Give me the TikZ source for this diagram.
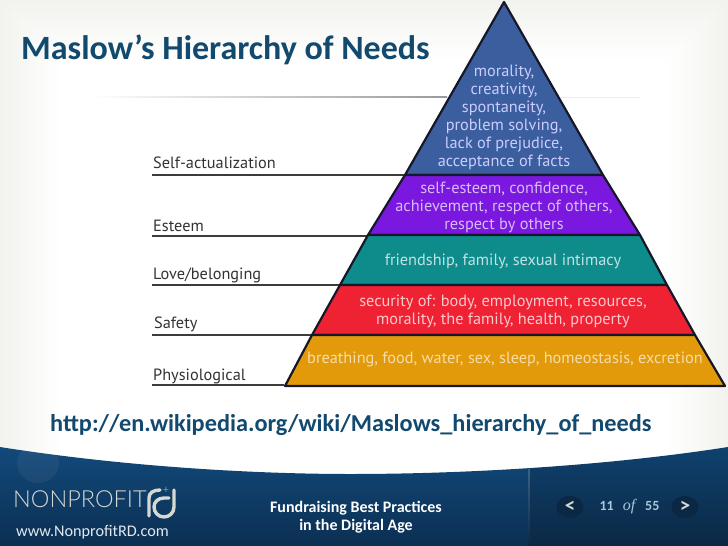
\documentclass[tikz,border=0pt]{standalone}
\usepackage{fontspec}
\setmainfont{Carlito}
\newfontfamily\din{PT Sans}
\newfontfamily\thinf{Lato Light}
\newfontfamily\serf{Liberation Serif}
\usetikzlibrary{calc,shapes.geometric}
\definecolor{titleblue}{HTML}{12496F}
\definecolor{footA}{HTML}{124A7C}
\definecolor{footB}{HTML}{0B2F52}
\definecolor{footC}{HTML}{0A2844}
\definecolor{paper}{HTML}{F2F3EE}
\definecolor{tierA}{HTML}{3A5E9E}
\definecolor{tierB}{HTML}{7A18E0}
\definecolor{tierC}{HTML}{0E8C8C}
\definecolor{tierD}{HTML}{EE2233}
\definecolor{tierE}{HTML}{E39A0A}
\definecolor{edge}{HTML}{16182A}
\definecolor{lineg}{HTML}{3C3C3C}
\definecolor{logog}{HTML}{D6D8D2}
\definecolor{pagec}{HTML}{A9C6DC}
\tikzset{
 x=1pt,y=-1pt,
 tiertext/.style={font=\din\fontsize{16.3}{18}\selectfont,align=center,inner sep=0pt},
 levellabel/.style={font=\din\fontsize{16.3}{18}\selectfont,text=black!80,anchor=base west,inner sep=0pt},
 levelline/.style={draw=lineg,line width=1.6pt},
 tier/.style={draw=edge,line width=2.2pt,line join=round},
 foot/.style={font=\bfseries\fontsize{16}{18.5}\selectfont,text=white,align=center,inner sep=0pt},
 navbtn/.style={ellipse,fill=footC,minimum width=27pt,minimum height=22pt,inner sep=0pt,text=logog,font=\bfseries\fontsize{21}{21}\selectfont},
 logostroke/.style={draw=logog,line width=3.4pt,line cap=round,line join=round},
}
\begin{document}
\begin{tikzpicture}
\useasboundingbox (0,0) rectangle (728,546);
% background: paper that fades to white inwards
\fill[paper] (0,0) rectangle (728,546);
\foreach \i in {1,...,20} {
  \pgfmathsetmacro{\pc}{100-5*\i}
  \fill[paper!\pc!white] ({3*\i},{3*\i}) rectangle ({728-3*\i},546);
}
% footer
\begin{scope}
\clip (0,447) .. controls (120,466) and (250,474) .. (350,474)
  .. controls (480,474) and (620,464) .. (728,447) -- (728,546) -- (0,546) -- cycle;
\shade[top color=footA,bottom color=footB] (0,445) rectangle (528,546);
\shade[top color=footA!70!footB,bottom color=footC] (528,445) rectangle (728,546);
\fill[white,opacity=0.05] (38,463) ellipse [x radius=21,y radius=20];
\shade[top color=white,bottom color=footB,opacity=0.2] (528.5,468) rectangle (529.5,546);
\end{scope}
% title
\node[anchor=base west,inner sep=0pt,text=titleblue,font=\bfseries\fontsize{34}{36}\selectfont] (title) at (21,59) {Maslow’s Hierarchy of Needs};
% rule under title
\coordinate (ruleL) at (90,97);
\coordinate (ruleR) at (447,97);
\coordinate (ruleE) at (640,97);
\shade[left color=white,middle color=black!40,right color=black!40] ($(ruleL)+(0,-0.5)$) rectangle ($(ruleR)+(0,0.5)$);
\draw[black!7,line width=0.8pt] (ruleR) -- (ruleE);
% level lines
\coordinate (l1) at (152,175); \coordinate (r1) at (406,175);
\coordinate (l2) at (152,236); \coordinate (r2) at (368,236);
\coordinate (l3) at (152,285); \coordinate (r3) at (341,285);
\coordinate (l4) at (152,335); \coordinate (r4) at (312,335);
\coordinate (l5) at (152,385); \coordinate (r5) at (284,385);
\foreach \i in {1,...,5} \draw[levelline] (l\i) -- (r\i);
% pyramid tiers
\filldraw[tier,fill=tierA] (504,2) -- (603,175) -- (405,175) -- cycle;
\filldraw[tier,fill=tierB] (405,175) -- (603,175) -- (640,235) -- (368,235) -- cycle;
\filldraw[tier,fill=tierC] (368,235) -- (640,235) -- (667,285) -- (340,285) -- cycle;
\filldraw[tier,fill=tierD] (340,285) -- (667,285) -- (695,335) -- (312,335) -- cycle;
\filldraw[tier,fill=tierE] (312,335) -- (695,335) -- (725,386) -- (285,386) -- cycle;
% tier text
\node[tiertext,text=blue!20!white] (t1) at (504,117) {morality,\\creativity,\\spontaneity,\\problem solving,\\lack of prejudice,\\acceptance of facts};
\node[tiertext,text=tierB!30!white] (t2) at (504,207) {self-esteem, confidence,\\achievement, respect of others,\\respect by others};
\node[tiertext,text=tierC!25!white] (t3) at (503,261) {friendship, family, sexual intimacy};
\node[tiertext,text=tierD!25!white] (t4) at (503,311) {security of: body, employment, resources,\\morality, the family, health, property};
\node[tiertext,text=tierE!35!white] (t5) at (505,359) {breathing, food, water, sex, sleep, homeostasis, excretion};
% level labels
\node[levellabel] (a1) at (153,168) {Self-actualization};
\node[levellabel] (a2) at (153,231) {Esteem};
\node[levellabel] (a3) at (153,279) {Love/belonging};
\node[levellabel] (a4) at (154,328) {Safety};
\node[levellabel] (a5) at (153,380) {Physiological};
% url
\node[anchor=base west,inner sep=0pt,text=titleblue,font=\bfseries\fontsize{24.3}{26}\selectfont] (url) at (50,431) {http://en.wikipedia.org/wiki/Maslows\_hierarchy\_of\_needs};
% logo
\node[anchor=base west,inner sep=0pt,text=logog,font=\thinf\fontsize{23.5}{24}\selectfont] (logo) at (13,507) {NONPROFIT};
\draw[logostroke] (149,516) -- (149,498) .. controls (149,493) and (153,490) .. (160,490);
\draw[logostroke] (174,490) -- (174,507) .. controls (174,513) and (169,517) .. (164,517)
  .. controls (158,517) and (154,512) .. (154,507) .. controls (154,502) and (158,498) .. (164,498) -- (169,498);
\node[inner sep=0pt,text=logog,font=\thinf\fontsize{11}{11}\selectfont] (plus) at (166,490) {+};
\node[anchor=base west,inner sep=0pt,text=white!88!footA,font=\fontsize{16.2}{17}\selectfont] (web) at (16,536) {www.NonprofitRD.com};
% footer text
\node[foot] (ft) at (356,517) {Fundraising Best Practices\\in the Digital Age};
\node[navbtn] (prev) at (570,507) {<};
\node[navbtn] (next) at (685,507) {>};
\node[text=pagec,font=\bfseries\fontsize{14}{14}\selectfont,inner sep=0pt] (pg) at (629.5,507) {11\hspace{9pt}{\serf\mdseries\itshape\fontsize{16}{16}\selectfont of}\hspace{10pt}55};
\end{tikzpicture}
\end{document}
